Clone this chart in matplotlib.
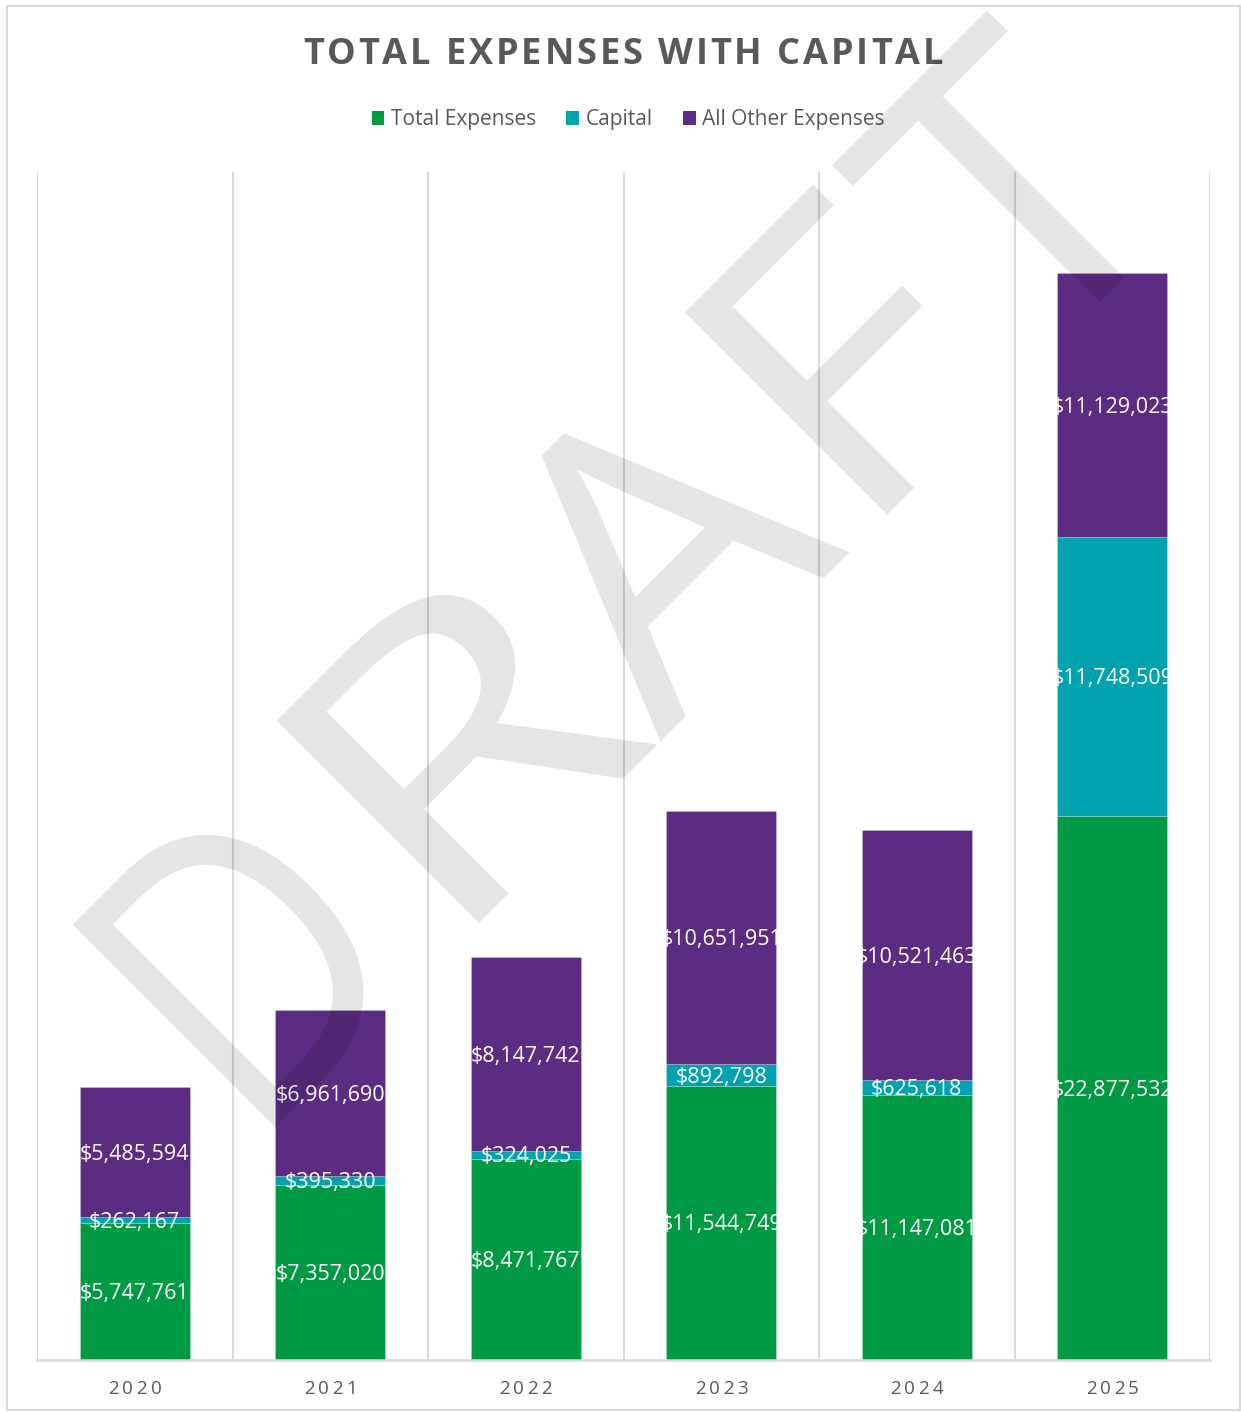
import numpy as np
import matplotlib
matplotlib.use('Agg')
import matplotlib.pyplot as plt
from matplotlib.patches import Rectangle, PathPatch, Patch
from matplotlib.textpath import TextPath
from matplotlib.font_manager import FontProperties, findfont, get_font
from matplotlib.transforms import Affine2D, IdentityTransform, ScaledTranslation

# ---------------- data ----------------
years = ['2020', '2021', '2022', '2023', '2024', '2025']
total_expenses = [5747761, 7357020, 8471767, 11544749, 11147081, 22877532]
capital = [262167, 395330, 324025, 892798, 625618, 11748509]
all_other = [5485594, 6961690, 8147742, 10651951, 10521463, 11129023]
series_names = ['Total Expenses', 'Capital', 'All Other Expenses']
title = 'TOTAL EXPENSES WITH CAPITAL'
watermark = 'DRAFT'

colors = ['#009A44', '#00A2AE', '#5B2C82']
text_gray = '#595959'
grid_gray = '#D9D9D9'
FONT = 'Open Sans'

W, H, DPI = 1241, 1412, 100
fig = plt.figure(figsize=(W / DPI, H / DPI), dpi=DPI)
fig.patch.set_facecolor('white')

# outer frame of chart
fig.add_artist(Rectangle((7, 2), 1233, H - 8, transform=IdentityTransform(),
                         fill=False, ec=grid_gray, lw=1.5))

ax = fig.add_axes([37 / W, (H - 1360) / H, (1210 - 37) / W, (1360 - 172) / H])
ax.set_xlim(-0.5, len(years) - 0.5)
ax.set_ylim(0, 50_000_000)
for s in ['top', 'left', 'right']:
    ax.spines[s].set_visible(False)
ax.spines['bottom'].set_color(grid_gray)
ax.spines['bottom'].set_linewidth(1.8)
ax.set_yticks([])
ax.set_xticks([])
for b in np.arange(-0.5, len(years), 1.0):
    ax.axvline(b, color=grid_gray, lw=1.5, zorder=0)

x = np.arange(len(years))
bw = 0.563
series = [total_expenses, capital, all_other]
bottom = np.zeros(len(years))
label_tr = ax.transData + ScaledTranslation(0, -2 / DPI, fig.dpi_scale_trans)
for vals, col, name in zip(series, colors, series_names):
    vals = np.array(vals, dtype=float)
    ax.bar(x, vals, bw, bottom=bottom, color=col, label=name, zorder=2,
           edgecolor=(1, 1, 1, 0.25), linewidth=0.6)
    for xi, v, b0 in zip(x, vals, bottom):
        clip = Rectangle((xi - bw / 2, -1e9), bw, 2e9, transform=ax.transData)
        t = ax.text(xi, b0 + v / 2, f'${v:,.0f}', ha='center', va='center',
                    color='white', fontsize=15.5, family=FONT, zorder=3,
                    transform=label_tr)
        t.set_clip_path(clip)
    bottom = bottom + vals


def advances(s, fp, size_pt):
    font = get_font(findfont(fp))
    font.set_size(size_pt, 72)
    return [font.load_char(ord(c)).linearHoriAdvance / 65536 * DPI / 72 for c in s]


def spaced_text(cx, cy, s, size, spacing, color, weight='normal'):
    """cx, cy: pixels, cy measured from top."""
    fp = FontProperties(family=FONT, weight=weight, size=size)
    adv = advances(s, fp, size)
    total = sum(adv) + spacing * (len(s) - 1)
    pos = cx - total / 2
    for c, a in zip(s, adv):
        if c != ' ':
            fig.text((pos + a / 2) / W, 1 - cy / H, c, ha='center', va='center',
                     fontproperties=fp, color=color)
        pos += a + spacing


# title
spaced_text(623, 55, title, 26, 2.9, text_gray, weight='bold')

# category labels
fig.canvas.draw()
for xi, yr in zip(x, years):
    px = ax.transData.transform((xi, 0))[0]
    spaced_text(px, 1389, yr, 13.5, 3.4, text_gray)

# legend
handles = [Patch(facecolor=c, edgecolor='none') for c in colors]
fig.legend(handles, series_names, loc='center', bbox_to_anchor=(628 / W, 1 - 120 / H),
           ncol=3, frameon=False, prop=FontProperties(family=FONT, size=15),
           labelcolor=text_gray, handlelength=0.62, handleheight=0.62,
           handletextpad=0.3, columnspacing=1.45)

# watermark: rotated semi-transparent letters
wfp = FontProperties(family=FONT, weight='normal')
cap = 286.0
origin = np.array([275.0, H - 1127.0])
spans = [(0, 195), (288.5, 541), (545, 812.5), (866, 1047), (1074, 1293)]
for ch, (s0, s1) in zip(watermark, spans):
    tp = TextPath((0, 0), ch, size=100, prop=wfp)
    ext = tp.get_extents()
    sx = (s1 - s0) / ext.width
    sy = cap / ext.y1
    tr = (Affine2D().translate(-ext.x0, 0).scale(sx, sy).translate(s0, 0)
          .rotate_deg(45).translate(*origin))
    path = tr.transform_path(tp)
    fig.add_artist(PathPatch(path, transform=IdentityTransform(), fc='black',
                             alpha=0.1, lw=0, zorder=10))

fig.savefig('out.png', dpi=DPI, facecolor='white')
